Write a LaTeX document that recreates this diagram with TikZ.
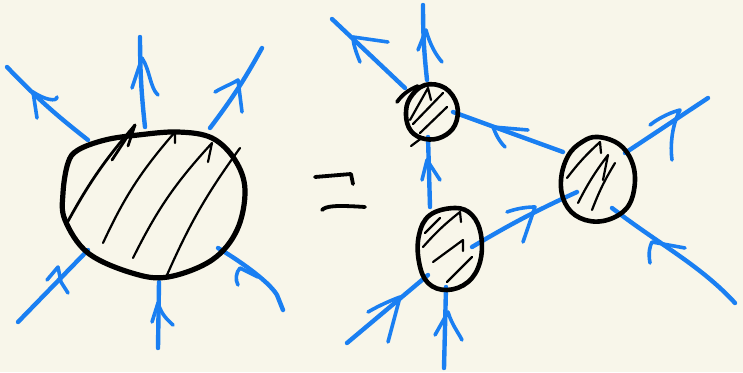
\documentclass[tikz,border=0pt]{standalone}
\definecolor{bg}{HTML}{F8F6EA}
\definecolor{pen}{HTML}{1A7FF2}
\tikzset{
  blueline/.style={draw=pen, line width=4.4pt, line cap=round, line join=round},
  bluehead/.style={draw=pen, line width=3.6pt, line cap=round, line join=round},
  outline/.style={draw=black, line width=5.2pt, line cap=round, line join=round},
  hatch/.style={draw=black, line width=2.2pt, line cap=round, line join=round},
  eqline/.style={draw=black, line width=3.8pt, line cap=round, line join=round}
}
\begin{document}
\begin{tikzpicture}[x=1pt,y=-1pt]
\fill[bg] (0,0) rectangle (743,372);
\useasboundingbox (0,0) rectangle (743,372);

% ---------------- big blob ----------------
\coordinate (big) at (155,205);
\coordinate (g1a) at (88,140);  \coordinate (g1b) at (7,67);
\coordinate (g2a) at (145,127); \coordinate (g2b) at (140,37);
\coordinate (g3a) at (210,128); \coordinate (g3b) at (262,48);
\coordinate (g4a) at (88,250);  \coordinate (g4b) at (18,322);
\coordinate (g5a) at (159,282); \coordinate (g5b) at (158,348);
\coordinate (g6a) at (218,248); \coordinate (g6b) at (283,310);

\draw[blueline] (g1a) to[bend left=4] (g1b);
\draw[bluehead] (37,118) -- (33,92) .. controls (45,100) and (57,102) .. (57,97);
\draw[blueline] (g2a) to[bend left=3] (g2b);
\draw[bluehead] (132,88) -- (142,58) .. controls (150,70) and (150,88) .. (158,95);
\draw[blueline] (g3a) to[bend right=4] (g3b);
\draw[bluehead] (215,92) .. controls (225,86) and (232,84) .. (238,80) -- (242,112);
\draw[blueline] (g4a) -- (g4b);
\draw[bluehead] (47,280) -- (58,267) -- (61,282) -- (68,293);
\draw[blueline] (g5a) -- (g5b);
\draw[bluehead] (152,322) -- (158,303) .. controls (162,316) and (168,320) .. (173,325);
\draw[blueline] (g6a) .. controls (235,258) and (268,280) .. (277,295) -- (g6b);
\draw[bluehead] (238,285) .. controls (235,280) and (236,272) .. (240,268) -- (258,277);

\draw[outline] plot[smooth cycle, tension=0.6] coordinates {
  (68,163) (78,150) (105,140) (138,135) (178,132) (212,138) (235,160)
  (245,190) (237,230) (212,260) (168,277) (132,273) (88,253) (65,220) (63,193)};

% hatching big
\draw[hatch, line width=2.8pt] (67,223) to[bend left=6] (135,125) -- (128,146);
\draw[hatch, line width=2.8pt] (112,160) -- (135,125);
\draw[hatch] (103,243) to[bend left=8] (175,132) -- (175,143);
\draw[hatch] (133,258) to[bend left=8] (212,143) -- (208,162);
\draw[hatch] (167,275) to[bend left=6] (240,148);

% ---------------- equals sign ----------------
\coordinate (eq1a) at (315,177); \coordinate (eq1b) at (351,174);
\coordinate (eq2a) at (322,210); \coordinate (eq2b) at (365,207);
\draw[eqline] (eq1a) -- (eq1b) -- (353,184);
\draw[eqline] (eq2a) .. controls (326,206) and (335,205) .. (eq2b);

% ---------------- small blobs ----------------
\coordinate (A) at (431,112);
\coordinate (B) at (598,178);
\coordinate (C) at (450,249);

\coordinate (a1a) at (405,88);  \coordinate (a1b) at (332,19);
\coordinate (a2a) at (427,80);  \coordinate (a2b) at (423,5);
\draw[blueline] (a1a) -- (a1b);
\draw[bluehead] (360,62) .. controls (355,50) and (353,42) .. (353,37) -- (388,42);
\draw[blueline] (a2a) to[bend left=3] (a2b);
\draw[bluehead] (418,50) -- (426,30) .. controls (430,45) and (436,55) .. (442,62);

\coordinate (ca1) at (430,207); \coordinate (ca2) at (428,137);
\draw[blueline] (ca1) -- (ca2);
\draw[bluehead] (422,180) -- (427,160) -- (440,180);
\coordinate (ab1) at (563,152); \coordinate (ab2) at (453,112);
\draw[blueline] (ab1) -- (ab2);
\draw[bluehead] (505,147) .. controls (498,140) and (495,132) .. (493,127) -- (528,130);
\coordinate (cb1) at (472,247); \coordinate (cb2) at (577,192);
\draw[blueline] (cb1) to[bend left=3] (cb2);
\draw[bluehead] (507,212) .. controls (518,208) and (528,207) .. (535,207) -- (523,242);

\coordinate (c1a) at (428,275); \coordinate (c1b) at (347,343);
\coordinate (c2a) at (446,287); \coordinate (c2b) at (444,368);
\draw[blueline] (c1a) -- (c1b);
\draw[bluehead] (368,312) .. controls (380,305) and (392,300) .. (400,297) -- (388,342);
\draw[blueline] (c2a) -- (c2b);
\draw[bluehead] (435,335) -- (448,312) .. controls (452,325) and (458,332) .. (462,340);

\coordinate (b1a) at (625,153); \coordinate (b1b) at (708,98);
\coordinate (b2a) at (612,208); \coordinate (b2b) at (735,303);
\draw[blueline] (b1a) -- (b1b);
\draw[bluehead] (650,125) .. controls (660,117) and (672,112) .. (680,110) .. controls (672,125) and (670,145) .. (672,160);
\draw[blueline] (b2a) .. controls (660,245) and (700,265) .. (b2b);
\draw[bluehead] (650,263) .. controls (648,252) and (650,246) .. (652,242) -- (685,248);

\draw[outline, line width=4.6pt] plot[smooth cycle, tension=0.65] coordinates {
  (425,85) (445,88) (457,105) (455,125) (442,137) (425,139) (411,131) (406,115) (410,98)};
\draw[outline, line width=3.8pt] (397,102) .. controls (402,95) and (408,90) .. (418,86);
\draw[outline, line width=4.6pt] plot[smooth cycle, tension=0.65] coordinates {
  (598,137) (620,145) (633,165) (634,190) (625,210) (603,221) (580,218) (565,203) (561,180) (568,156) (582,142)};
\draw[outline, line width=4.6pt] plot[smooth cycle, tension=0.65] coordinates {
  (455,208) (472,215) (481,235) (480,262) (468,282) (447,290) (428,283) (419,262) (419,235) (430,215)};

\draw[hatch] (410,120) -- (428,88) -- (431,100);
\draw[hatch] (413,124) -- (443,93);
\draw[hatch] (420,133) -- (447,107);
\draw[hatch] (411,146) -- (423,137);
\draw[hatch] (423,247) to[bend left=5] (460,212) -- (461,222);
\draw[hatch] (425,233) -- (440,218);
\draw[hatch] (433,262) -- (463,240) -- (463,251);
\draw[hatch] (447,282) -- (472,257);
\draw[hatch] (567,178) to[bend left=5] (600,142) -- (601,153);
\draw[hatch] (578,203) to[bend left=5] (608,155) -- (603,180);
\draw[hatch] (592,210) to[bend left=5] (615,163);
\end{tikzpicture}
\end{document}
